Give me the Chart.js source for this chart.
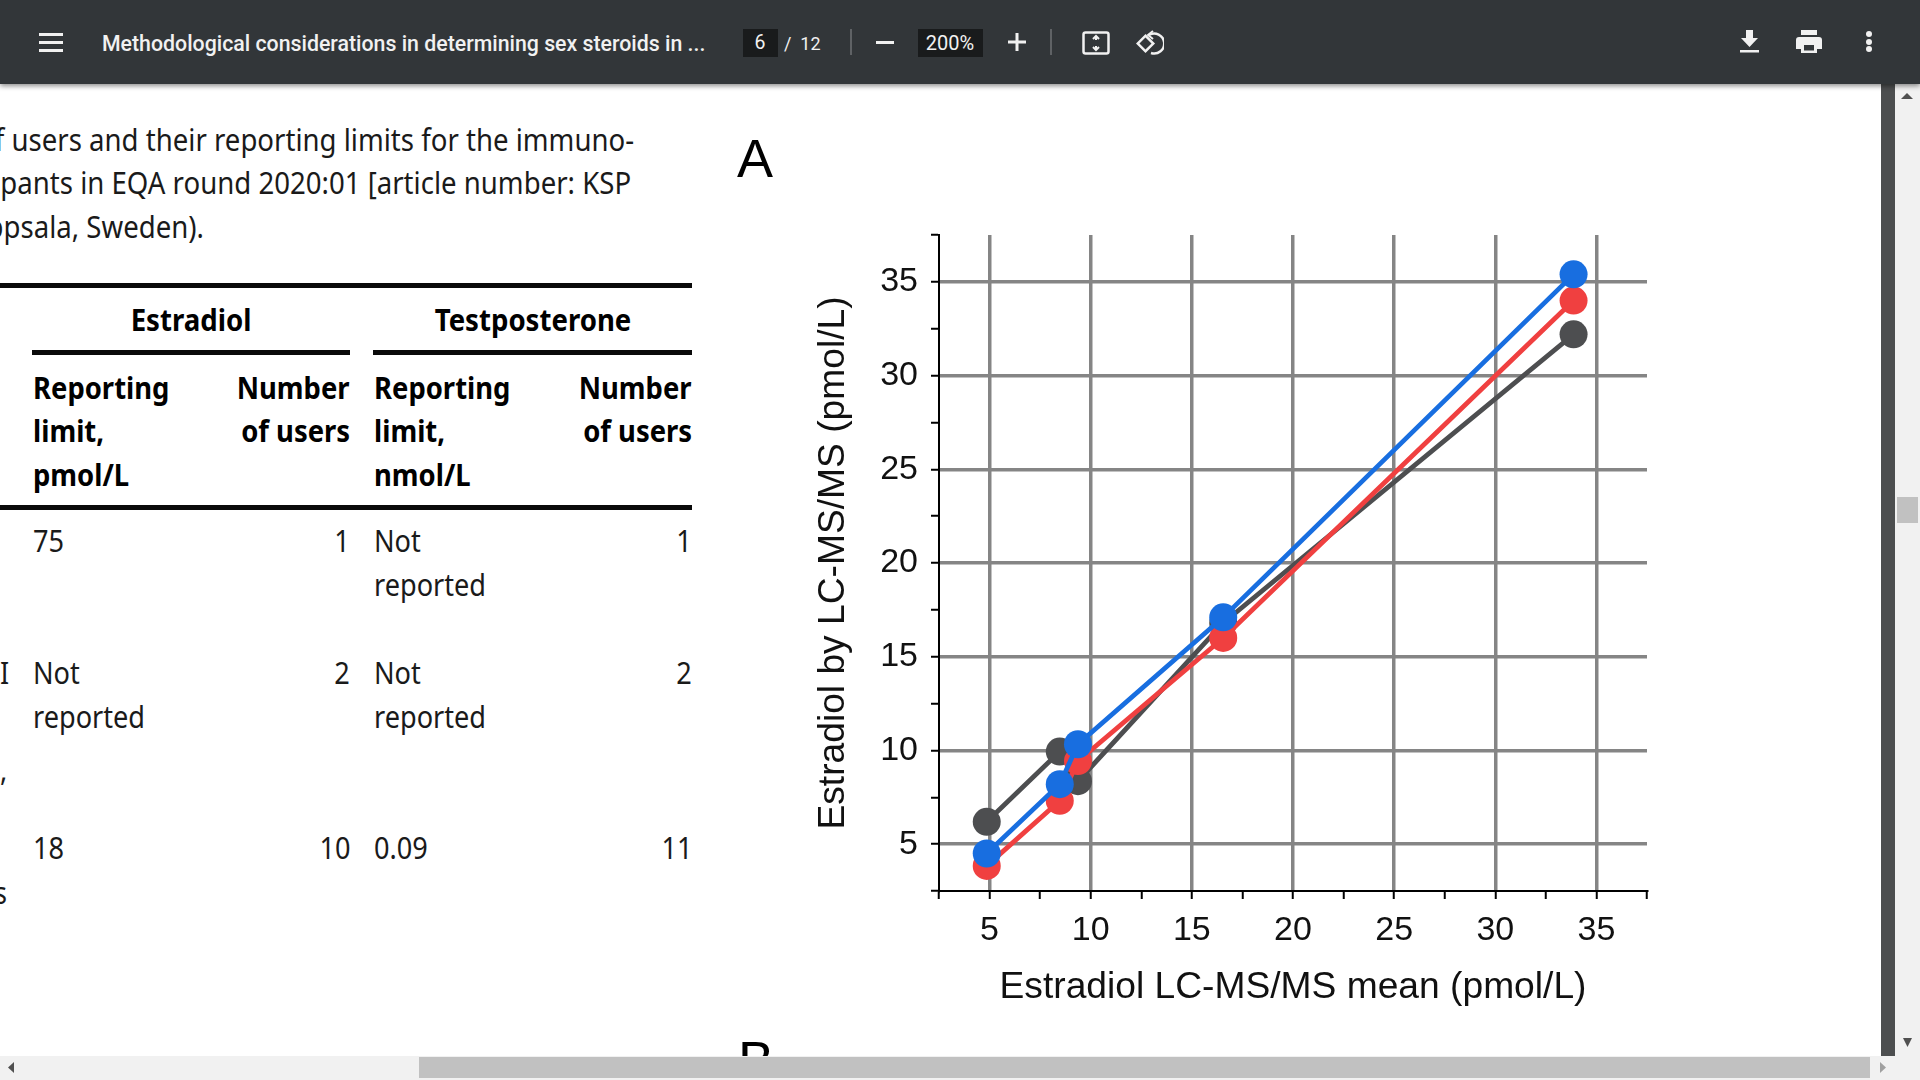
<!DOCTYPE html>
<html><head><meta charset="utf-8">
<script src="https://cdn.jsdelivr.net/npm/chart.js@4"></script>
<style>
html,body{margin:0;padding:0;width:1920px;height:1080px;overflow:hidden;background:#fff}
.t{position:absolute;white-space:nowrap;font-family:"Noto Sans",sans-serif;color:#1a1a1a;line-height:1;transform:translateY(-50%)}
.p{font-size:31px;margin-top:-1.5px;transform:translateY(-50%) scaleX(.875);transform-origin:left center}
.p[style*="right:"]{transform-origin:right center}
.p.w{transform:translateY(-50%) scaleX(.89)}
.b{font-weight:700;color:#000}
.p.b{transform:translateY(-50%) scaleX(.885)}
.p.c{transform:translate(-50%,-50%) scaleX(.89);transform-origin:center center}
.r{position:absolute;background:#0a0a0a}
#bar{position:absolute;left:0;top:0;width:1920px;height:84px;background:#323639;box-shadow:0 2px 5px rgba(0,0,0,.45);z-index:5}
#bar .t{color:#f1f1f1;font-family:Roboto,sans-serif}
.box{position:absolute;background:#191b1c;top:29px;height:28px}
.sep{position:absolute;width:2px;top:29px;height:26px;background:#5f6265}
#bar svg{position:absolute}
#chartBox{position:absolute;left:780px;top:200px;width:900px;height:850px}
.letter{position:absolute;font-family:"Liberation Sans",sans-serif;color:#000;font-size:54px;line-height:1}
</style></head><body>

<div class="t p w" style="right:1286px;top:140px">of users and their reporting limits for the immuno-</div>
<div class="t p w" style="right:1289px;top:183px">participants in EQA round 2020:01 [article number: KSP</div>
<div class="t p w" style="right:1716px;top:227px">Uppsala, Sweden).</div>

<div class="r" style="left:0;top:283px;width:692px;height:5px"></div>
<div class="t p b c" style="left:191px;top:320px">Estradiol</div>
<div class="t p b c" style="left:533px;top:320px">Testposterone</div>
<div class="r" style="left:32px;top:350px;width:318px;height:5px"></div>
<div class="r" style="left:373px;top:350px;width:319px;height:5px"></div>
<div class="t p b" style="left:33px;top:388.500px">Reporting</div>
<div class="t p b" style="left:33px;top:431.500px">limit,</div>
<div class="t p b" style="left:33px;top:475px">pmol/L</div>
<div class="t p b" style="right:1570px;top:388.500px">Number</div>
<div class="t p b" style="right:1570px;top:431.500px">of users</div>
<div class="t p b" style="left:374px;top:388.500px">Reporting</div>
<div class="t p b" style="left:374px;top:431.500px">limit,</div>
<div class="t p b" style="left:374px;top:475px">nmol/L</div>
<div class="t p b" style="right:1228px;top:388.500px">Number</div>
<div class="t p b" style="right:1228px;top:431.500px">of users</div>
<div class="r" style="left:0;top:505px;width:692px;height:5px"></div>

<div class="t p" style="left:33px;top:541px">75</div>
<div class="t p" style="right:1570px;top:541px">1</div>
<div class="t p" style="left:374px;top:541px">Not</div>
<div class="t p" style="left:374px;top:585.500px">reported</div>
<div class="t p" style="right:1228px;top:541px">1</div>

<div class="t p" style="left:0;top:673px">I</div>
<div class="t p" style="left:33px;top:673px">Not</div>
<div class="t p" style="left:33px;top:717.500px">reported</div>
<div class="t p" style="right:1570px;top:673px">2</div>
<div class="t p" style="left:374px;top:673px">Not</div>
<div class="t p" style="left:374px;top:717.500px">reported</div>
<div class="t p" style="right:1228px;top:673px">2</div>
<div class="t p" style="left:0;top:770px">,</div>

<div class="t p" style="left:33px;top:848px">18</div>
<div class="t p" style="right:1570px;top:848px">10</div>
<div class="t p" style="left:374px;top:848px">0.09</div>
<div class="t p" style="right:1228px;top:848px">11</div>
<div class="t p" style="left:-6px;top:893px">s</div>

<div class="letter" style="left:737px;top:131px">A</div>
<div class="letter" style="left:738px;top:1033px">B</div>

<div id="chartBox"><canvas id="c" width="900" height="850" style="width:900px;height:850px;display:block"></canvas></div>

<div id="bar">
  <svg style="left:39px;top:33px" width="24" height="20"><path d="M0 1.5h24M0 9.5h24M0 17.5h24" stroke="#f1f1f1" stroke-width="3"/></svg>
  <div class="t" style="left:102px;top:44px;font-size:21.3px;font-weight:500">Methodological considerations in determining sex steroids in ...</div>
  <div class="box" style="left:743px;width:35px"></div>
  <div class="t" style="left:760px;top:43px;font-size:19.5px;transform:translate(-50%,-50%)">6</div>
  <div class="t" style="left:784px;top:44px;font-size:18px">/ &nbsp;12</div>
  <div class="sep" style="left:850px"></div>
  <svg style="left:876px;top:41px" width="18" height="4"><rect width="18" height="3" fill="#f1f1f1"/></svg>
  <div class="box" style="left:918px;width:65px"></div>
  <div class="t" style="left:950px;top:43px;font-size:20px;transform:translate(-50%,-50%)">200%</div>
  <svg style="left:1008px;top:33px" width="18" height="18"><path d="M0 9h18M9 0v18" stroke="#f1f1f1" stroke-width="3"/></svg>
  <div class="sep" style="left:1050px"></div>
  <svg style="left:1082px;top:31px" width="28" height="24" fill="none" stroke="#f1f1f1" stroke-width="2.5"><rect x="1.5" y="1.5" width="25" height="21" rx="2"/><path d="M14 5v4M14 15v4M11 8l3-3 3 3M11 16l3 3 3-3" stroke-width="2"/></svg>
  <svg style="left:1136px;top:29px" width="28" height="28" fill="none" stroke="#f1f1f1" stroke-width="2.5"><rect x="4" y="9" width="11" height="11" transform="rotate(45 9.500 14.500)"/><path d="M13 6a10 10 0 1 1 2 18"/><path d="M17 2l-5 4 5 4" stroke-width="2"/></svg>
  <svg style="left:1740px;top:30px" width="19" height="23" fill="#f1f1f1"><path d="M6 0h7v8h5l-8.500 9L1 8h5z"/><rect y="20" width="19" height="2.500"/></svg>
  <svg style="left:1796px;top:30px" width="26" height="24" fill="#f1f1f1"><path d="M5 0h16v5H5z"/><path fill-rule="evenodd" d="M3 7h20a3 3 0 0 1 3 3v9h-5v4H5v-4H0v-9a3 3 0 0 1 3-3zM8 15v5.500h10V15z"/></svg>
  <svg style="left:1865px;top:30px" width="8" height="24" fill="#f1f1f1"><circle cx="4" cy="4" r="3"/><circle cx="4" cy="12" r="3"/><circle cx="4" cy="19" r="3"/></svg>
</div>

<div style="position:absolute;left:1881px;top:84px;width:14px;height:972px;background:#4c4e4f"></div>
<div style="position:absolute;left:1895px;top:84px;width:25px;height:996px;background:#f1f1f1"></div>
<svg style="position:absolute;left:1901px;top:92px" width="12" height="8"><path d="M0 7L6 1l6 6z" fill="#505050"/></svg>
<svg style="position:absolute;left:1903px;top:1038px" width="9" height="10"><path d="M0 0h9L4.500 9z" fill="#505050"/></svg>
<div style="position:absolute;left:1897px;top:497px;width:21px;height:26px;background:#c1c1c1"></div>
<div style="position:absolute;left:0;top:1056px;width:1895px;height:24px;background:#f1f1f1"></div>
<div style="position:absolute;left:419px;top:1057px;width:1451px;height:21px;background:#c1c1c1"></div>
<svg style="position:absolute;left:8px;top:1062px" width="7" height="12"><path d="M6 0v11L0 5.500z" fill="#505050"/></svg>
<svg style="position:absolute;left:1880px;top:1062px" width="7" height="12"><path d="M0 0v11l6-5.500z" fill="#a0a0a0"/></svg>

<script>
const meanEstradiol = [4.86, 8.47, 9.37, 16.55, 33.87];
const seriesGray = [6.19, 9.94, 8.36, 16.8, 32.2];
const seriesRed  = [3.84, 7.31, 9.43, 16.0, 34.0];
const seriesBlue = [4.5, 8.2, 10.33, 17.1, 35.4];
const tickLabels = [5, 10, 15, 20, 25, 30, 35];
const xTitle = 'Estradiol LC-MS/MS mean (pmol/L)';
const yTitle = 'Estradiol by LC-MS/MS (pmol/L)';

const pts = ys => ys.map((y, i) => ({ x: meanEstradiol[i], y }));
const mk = (data, color, order) => ({
  data: pts(data), borderColor: color, backgroundColor: color,
  borderWidth: 4.8, pointRadius: 14, pointHoverRadius: 14, pointBorderWidth: 0,
  showLine: true, tension: 0, order, clip: false
});
const axis = (titleText, titlePadding, fit, tickPad) => ({
  type: 'linear', min: 2.5, max: 37.5,
  ticks: {
    stepSize: 2.5, autoSkip: false, maxRotation: 0, padding: tickPad, color: '#111',
    font: { family: '"Liberation Sans"', size: 34 },
    callback: v => tickLabels.includes(v) ? String(v) : ''
  },
  grid: {
    color: c => tickLabels.includes(c.tick && c.tick.value) ? '#858585' : 'rgba(0,0,0,0)',
    lineWidth: 3.5, tickColor: '#000', tickWidth: 2, tickLength: 8
  },
  border: { display: true, color: '#000', width: 2 },
  title: { display: true, text: titleText, color: '#111', padding: titlePadding,
    font: { family: '"Liberation Sans"', size: 37.2 } },
  afterFit: fit
});
new Chart(document.getElementById('c'), {
  type: 'scatter',
  data: { datasets: [mk(seriesGray, '#4d4e50', 3), mk(seriesRed, '#f04040', 2), mk(seriesBlue, '#186ee0', 1)] },
  options: {
    responsive: false, animation: false, devicePixelRatio: 1,
    layout: { padding: { top: 35, right: 33, left: 0, bottom: 0 } },
    plugins: { legend: { display: false }, tooltip: { enabled: false } },
    scales: {
      x: axis(xTitle, { top: 0, bottom: 40 }, s => { s.height = 159; }, 11),
      y: axis(yTitle, { top: 31, bottom: 0 }, s => { s.width = 159; }, 13)
    }
  }
});
</script>
</body></html>
